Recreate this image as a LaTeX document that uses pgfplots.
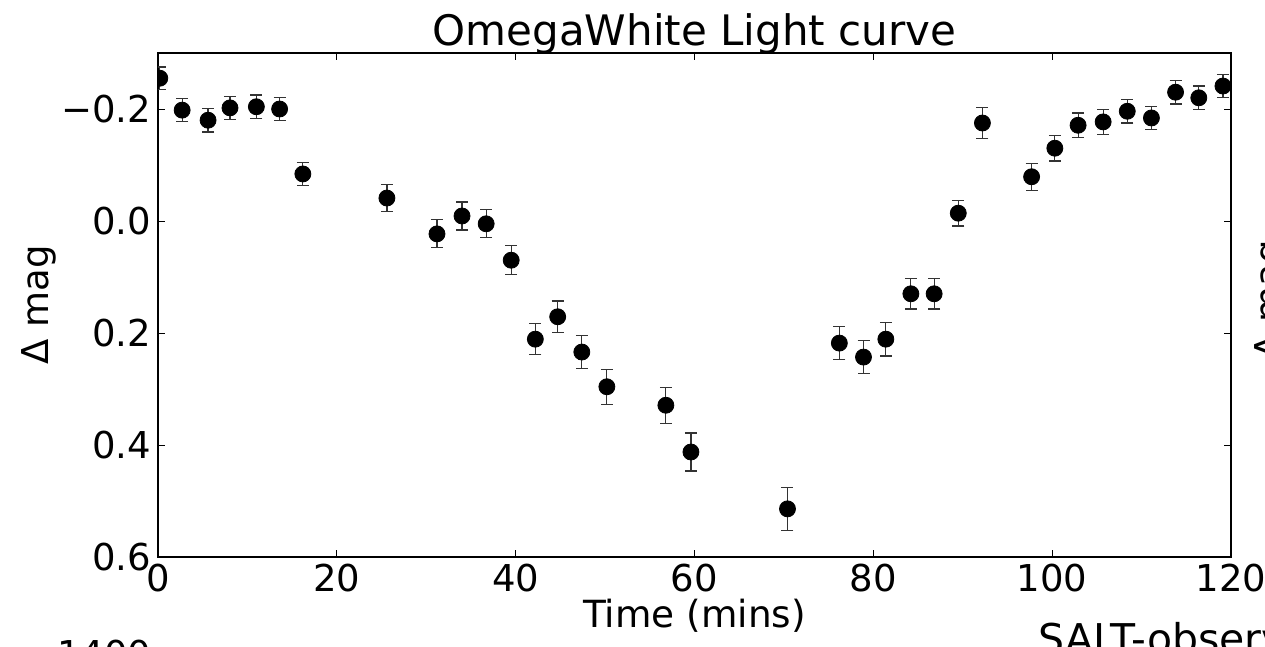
\documentclass[border=0pt]{standalone}
\usepackage{fontspec}
\setmainfont{DejaVu Sans}
\usepackage{pgfplots}
\usepackage{pgfplotstable}
\pgfplotsset{compat=1.18}
\pgfplotstableread{
x y e
0.2 -0.255 0.020
2.7 -0.198 0.021
5.6 -0.180 0.021
8.05 -0.202 0.021
11.0 -0.204 0.021
13.6 -0.200 0.021
16.2 -0.084 0.021
25.6 -0.041 0.024
31.2 0.023 0.025
34.0 -0.009 0.025
36.7 0.005 0.025
39.5 0.070 0.026
42.2 0.211 0.028
44.7 0.171 0.028
47.4 0.234 0.029
50.2 0.296 0.031
56.8 0.329 0.032
59.6 0.4125 0.034
70.4 0.514 0.038
76.2 0.218 0.030
78.9 0.243 0.030
81.4 0.211 0.030
84.2 0.130 0.027
86.8 0.130 0.027
89.5 -0.014 0.023
92.2 -0.175 0.027
97.7 -0.079 0.024
100.3 -0.130 0.023
102.9 -0.171 0.022
105.7 -0.177 0.022
108.4 -0.196 0.021
111.1 -0.184 0.021
113.8 -0.230 0.021
116.4 -0.220 0.021
119.1 -0.241 0.021
}\lcdata
\begin{document}
\begin{tikzpicture}
\useasboundingbox (0,0) rectangle (632.5pt,-323.5pt);
\clip (0,0) rectangle (632.5pt,-323.5pt);
\begin{axis}[
  at={(79pt,-278.5pt)}, anchor=south west,
  scale only axis, width=536.5pt, height=252pt,
  xmin=0, xmax=120, ymin=-0.3, ymax=0.6, y dir=reverse,
  xtick={0,20,40,60,80,100,120},
  xticklabels={0,20,40,60,80,100,120},
  ytick={-0.2,0,0.2,0.4,0.6},
  yticklabels={−0.2,0.0,0.2,0.4,0.6},
  tick label style={font=\fontsize{18.5}{22}\selectfont},
  title={OmegaWhite Light curve},
  title style={font=\fontsize{21}{25}\selectfont, at={(0.5,1)}, anchor=base, yshift=-2pt},
  xlabel={Time (mins)},
  xlabel style={font=\fontsize{18.7}{22}\selectfont, at={(0.5,0)}, anchor=base, yshift=-35pt},
  ylabel={Δ mag},
  ylabel style={font=\fontsize{18.5}{22}\selectfont, at={(-0.111,0.5)}, anchor=center},
  axis line style={line width=0.75pt},
  tick style={line width=0.5pt, black},
  major tick length=3.5pt,
  tick align=inside,
  clip marker paths=true,
]
\addplot[only marks, mark=*, mark size=4pt, black,
  error bars/.cd, y dir=both, y explicit,
  error bar style={line width=0.6pt, black!80},
  error mark options={rotate=90, mark size=3pt, line width=0.6pt, black!80}]
  table[x=x, y=y, y error=e] {\lcdata};
\end{axis}
\node[anchor=base west, inner sep=0pt, font=\fontsize{18.5}{22}\selectfont] at (28.5pt,-333.5pt) {1400};
\node[anchor=base west, inner sep=0pt, font=\fontsize{20.5}{24}\selectfont] at (519pt,-326.5pt) {SALT-observed};
\node[anchor=north, inner sep=0pt, rotate=90, font=\fontsize{18.5}{22}\selectfont] at (627pt,-150pt) {Δ mag};
\end{tikzpicture}
\end{document}
